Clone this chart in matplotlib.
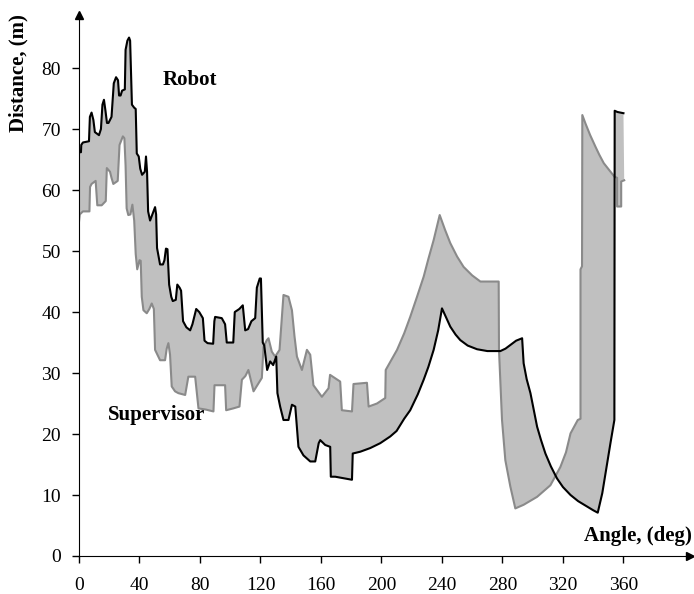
import numpy as np
import matplotlib.pyplot as plt

# Robot estimate (black) and Supervisor (gray)
robot_angle = [0, 1.3, 1.5, 2.6, 6.6, 7.2, 8.3, 9.5, 10.5, 13.2, 14.5, 15.5, 16.5, 17.5, 18.5,
               19.5, 21.5, 23, 24.5, 25.8, 26.5, 27.5, 28.5, 30.3, 30.8, 32, 33.1, 33.8, 35,
               36.5, 37.5, 38.2, 39.5, 40.5, 41.7, 43.5, 44.3, 45, 45.7, 47, 48.5, 50.3, 51,
               51.6, 53.6, 55.5, 56.5, 57.5, 58.5, 59.6, 61, 62, 64, 65, 66.5, 67.5, 68.8,
               71, 73.5, 75, 77.5, 79.5, 81.9, 83, 85, 88.7, 89.5, 90, 94.4, 96.6, 97.7,
               102, 103, 106, 108.3, 109.9, 111.8, 114, 116.5, 117.6, 119.5, 120.3, 121.5,
               122.5, 124.4, 126.4, 128.4, 130.4, 131.2, 133, 135.2, 138.5, 140.8, 143,
               145.1, 148.4, 152.9, 156.2, 158.5, 159.5, 162.8, 166.1, 166.5, 169.4, 180.5,
               181, 186, 192.6, 199.2, 205.8, 210, 215, 219, 224, 227.9, 231, 234.5, 237.5,
               240, 242, 245.5, 249, 252.1, 257, 263.2, 270, 276.4, 278.6, 282, 285.2, 289,
               293, 294, 296, 298.5, 302.9, 305.5, 308.4, 312, 316.1, 320, 325, 330, 336,
               340, 343, 346, 349.2, 351.4, 354, 354.2, 356, 360]
robot_dist = [66.2, 66.2, 67.4, 67.8, 68, 72, 72.7, 71.5, 69.5, 69, 70, 74, 74.8, 73, 71,
              71, 72, 77.5, 78.5, 78, 75.5, 75.5, 76.3, 76.5, 83, 84.5, 85, 84.5, 74,
              73.5, 73.3, 66, 65.5, 63.5, 62.5, 63, 65.5, 63, 56.5, 55, 56, 57.2, 56,
              50.5, 47.8, 47.8, 48.5, 50.4, 50.3, 44.5, 42.5, 41.8, 42, 44.5, 44, 43.5, 38.5,
              37.5, 37, 38, 40.5, 40, 39, 35.3, 34.9, 34.8, 38.5, 39.2, 39, 38, 35,
              35, 40, 40.5, 41.1, 37, 37.2, 38.5, 39, 44, 45.5, 45.5, 35,
              34.5, 30.5, 31.9, 31.3, 32.7, 26.7, 24.5, 22.3, 22.3, 24.8, 24.5,
              17.9, 16.5, 15.5, 15.5, 18.5, 19, 18.2, 17.9, 13, 13, 12.5,
              16.8, 17.1, 17.7, 18.5, 19.6, 20.5, 22.5, 23.9, 26.5, 28.9, 31, 33.8, 37,
              40.6, 39.5, 37.6, 36.3, 35.4, 34.5, 33.9, 33.6, 33.6, 33.6, 34, 34.6, 35.3,
              35.7, 31.6, 29, 26.7, 21.2, 19, 16.8, 14.7, 12.7, 11.3, 10, 9, 8.1,
              7.5, 7.1, 10.3, 15.2, 18.5, 22.3, 73, 72.8, 72.6]

super_angle = [0, 0.5, 2.6, 6.9, 7.3, 8.3, 11, 12.1, 15, 17.7, 18.4, 20.5, 21.5, 22.7, 25.6,
               26.8, 29, 30, 30.8, 31.5, 32.6, 34, 35.3, 36.5, 37.5, 38.5, 40, 40.8, 41.5,
               42.6, 44.8, 46.5, 48.1, 49.5, 50.3, 53.6, 56.9, 58, 59.1, 60.2, 61.3, 63.5,
               65.7, 70.2, 72.3, 76.8, 79, 84, 88.9, 89.6, 96.6, 97.3, 102, 106.1, 107.7,
               110, 112, 115.4, 118.7, 120.9, 122, 124.2, 125.3, 127.5, 129.7, 132.6, 135.2,
               138.5, 140.8, 142.5, 144.1, 147.4, 150.7, 152.9, 155, 160.6, 165, 166, 172.7,
               173.8, 180.5, 181.5, 190.4, 191.5, 197, 202.5, 202.8, 210.3, 215, 219, 223.5,
               227.9, 231, 234.5, 238.5, 242, 245.5, 250, 254.3, 260, 265.4, 277.5, 277.7,
               279.7, 281.9, 285.2, 288.5, 294, 302.9, 311.7, 318.3, 322, 325, 329.8, 331.6,
               331.6, 332.6, 332.8, 334.9, 338, 341.5, 344, 347, 351.4, 354, 355.8, 355.8,
               358.5, 358.5, 360.5]
super_dist = [54.8, 56, 56.5, 56.5, 60.5, 61, 61.5, 57.5, 57.5, 58.2, 63.6, 63, 62, 61, 61.5,
              67.4, 68.8, 68.5, 64, 57, 55.9, 56, 57.6, 55, 49.5, 47, 48.5, 48.4, 42.5,
              40.3, 39.8, 40.5, 41.4, 40.5, 33.8, 32.1, 32.1, 34, 34.9, 33, 27.8, 27,
              26.7, 26.4, 29.4, 29.4, 24.2, 24, 23.7, 28, 28, 23.9, 24.2, 24.5, 28.9,
              29.5, 30.5, 27, 28.3, 29.2, 34.3, 35.4, 35.7, 33.5, 32.7, 33.8, 42.8,
              42.5, 40.3, 36, 32.7, 30.5, 33.8, 33, 28, 26.1, 27.5, 29.7, 28.6,
              23.9, 23.7, 28.2, 28.4, 24.5, 25, 25.9, 30.5, 33.8, 36.5, 39.2, 42.5,
              45.8, 48.7, 51.8, 55.9, 53.5, 51.3, 49.1, 47.4, 46, 45, 45, 33.8,
              22.3, 15.7, 11.4, 7.8, 8.4, 9.7, 11.6, 14.6, 17, 20.1, 22.3, 22.5,
              47, 47.5, 72.3, 70.9, 69, 67.1, 65.8, 64.4, 63, 62.2, 62, 57.3,
              57.3, 61.4, 61.6]

x_ticks = [0, 40, 80, 120, 160, 200, 240, 280, 320, 360]
y_ticks = [0, 10, 20, 30, 40, 50, 60, 70, 80]

plt.rcParams['font.family'] = ['Liberation Serif', 'DejaVu Serif']

fig = plt.figure(figsize=(6.94, 5.94), dpi=100)
ax = fig.add_axes([79 / 694, 38 / 594, 611 / 694, 541 / 594])

# shaded region between the two curves
poly_x = np.concatenate([robot_angle, super_angle[::-1]])
poly_y = np.concatenate([robot_dist, super_dist[::-1]])
ax.fill(poly_x, poly_y, color='#c0c0c0', lw=0)

ax.plot(super_angle, super_dist, color='#8a8a8a', lw=1.5)
ax.plot(robot_angle, robot_dist, color='black', lw=1.5)

ax.set_xlim(0, 404)
ax.set_ylim(0, 88.7)
ax.set_xticks(x_ticks)
ax.set_yticks(y_ticks)
ax.tick_params(axis='both', labelsize=14, length=5, width=1, direction='out')
ax.tick_params(axis='x', pad=10)
ax.tick_params(axis='y', pad=8)
for s in ['top', 'right']:
    ax.spines[s].set_visible(False)

# arrow heads on the axes
ax.plot(1, 0, '>', color='black', ms=6, transform=ax.transAxes, clip_on=False)
ax.plot(0, 1, '^', color='black', ms=6, transform=ax.transAxes, clip_on=False)

ax.text(73.5, 78, 'Robot', fontsize=15, fontweight='bold', ha='center', va='center')
ax.text(51.6, 23.1, 'Supervisor', fontsize=15, fontweight='bold', ha='center', va='center')
ax.text(405, 3.3, 'Angle, (deg)', fontsize=15, fontweight='bold', ha='right', va='center')
fig.text(18 / 694, 1 - 73 / 594, 'Distance, (m)', fontsize=15, fontweight='bold',
         rotation=90, ha='center', va='center')

fig.savefig('out.png', dpi=100)
